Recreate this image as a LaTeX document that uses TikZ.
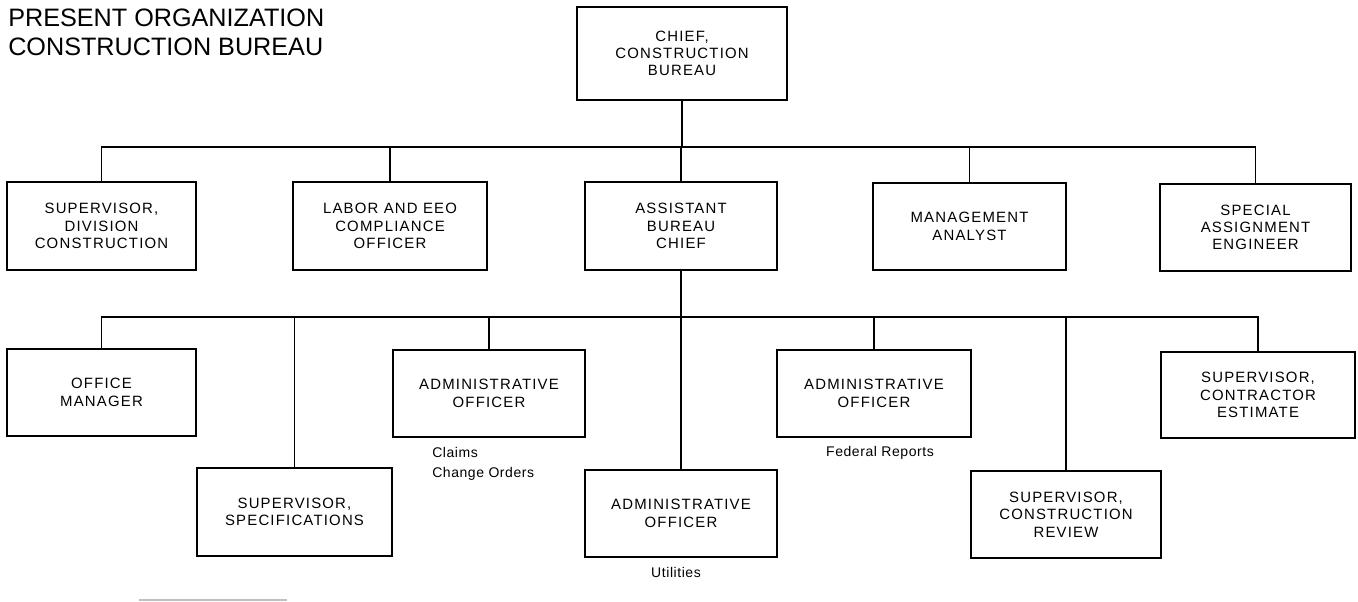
\documentclass[tikz,border=0pt]{standalone}
\usepackage{fontspec}
\setmainfont{Liberation Sans}
\newfontfamily\titlefont{Liberation Sans}
\newfontfamily\boxfont[LetterSpace=8]{Liberation Sans}
\newfontfamily\notefont[LetterSpace=4]{Liberation Sans}
\begin{document}
\begin{tikzpicture}[x=0.75pt,y=-0.75pt,
  unit/.style 2 args={draw=black, line width=1.4pt, fill=white, align=center,
    inner sep=0pt, minimum width=#1*0.75pt, minimum height=#2*0.75pt,
    font=\boxfont\fontsize{11.2}{13}\selectfont},
  note/.style={inner sep=0pt, font=\notefont\fontsize{10.5}{15.5}\selectfont},
  heading/.style={anchor=base west, inner sep=0pt,
    font=\titlefont\fontsize{18.9}{21.8}\selectfont},
  link/.style={draw=black, line width=1.4pt, line cap=rect}]
\useasboundingbox (0,0) rectangle (1358,601);

% title
\node[heading] (title1) at (8,26) {PRESENT ORGANIZATION};
\node[heading] (title2) at (8,55) {CONSTRUCTION BUREAU};

% bus levels
\coordinate (b1) at (0,147);
\coordinate (b2) at (0,317);

% head of bureau
\node[unit={210}{93}] (chief) at (682,53.5) {CHIEF,\\CONSTRUCTION\\BUREAU};

% first level
\node[unit={189}{88}] (sdc)  at (101.5,226)   {SUPERVISOR,\\DIVISION\\CONSTRUCTION};
\node[unit={194}{88}] (lab)  at (390,226)     {LABOR AND EEO\\COMPLIANCE\\OFFICER};
\node[unit={192}{88}] (asst) at (681,226)     {ASSISTANT\\BUREAU\\CHIEF};
\node[unit={193}{87}] (mgmt) at (969.5,226.5) {MANAGEMENT\\ANALYST};
\node[unit={191}{87}] (sae)  at (1255.5,227.5){SPECIAL\\ASSIGNMENT\\ENGINEER};

% second level
\node[unit={189}{87}] (office) at (101.5,392.5) {OFFICE\\MANAGER};
\node[unit={195}{88}] (spec)   at (294.5,512)   {SUPERVISOR,\\SPECIFICATIONS};
\node[unit={192}{87}] (adm1)   at (489,393.5)   {ADMINISTRATIVE\\OFFICER};
\node[unit={192}{87}] (util)   at (681,513.5)   {ADMINISTRATIVE\\OFFICER};
\node[unit={194}{87}] (fed)    at (874,393.5)   {ADMINISTRATIVE\\OFFICER};
\node[unit={190}{87}] (review) at (1066,514.5)  {SUPERVISOR,\\CONSTRUCTION\\REVIEW};
\node[unit={194}{86}] (est)    at (1258,395)    {SUPERVISOR,\\CONTRACTOR\\ESTIMATE};

% duties under the officers
\node[note, anchor=west, align=left] (claims) at (432,464) {Claims\\Change Orders};
\node[note] (fedrep) at (880,452.5) {Federal Reports};
\node[note] (utilnote) at (676,572.5) {Utilities};

% connectors, first level
\draw[link] (sdc.north) -- (sdc.north |- b1) -- (sae.north |- b1) -- (sae.north);
\draw[link] (chief.south) -- (chief.south |- b1);
\draw[link] (lab.north) -- (lab.north |- b1);
\draw[link] (asst.north) -- (asst.north |- b1);
\draw[link] (mgmt.north) -- (mgmt.north |- b1);

% connectors, second level
\draw[link] (office.north) -- (office.north |- b2) -- (est.north |- b2) -- (est.north);
\draw[link] (asst.south) -- (util.north);
\draw[link] (spec.north) -- (spec.north |- b2);
\draw[link] (adm1.north) -- (adm1.north |- b2);
\draw[link] (fed.north) -- (fed.north |- b2);
\draw[link] (review.north) -- (review.north |- b2);

% footnote rule
\coordinate (fnl) at (139,600);
\coordinate (fnr) at (287,600);
\draw[black!25, line width=0.8pt] (fnl) -- (fnr);
\end{tikzpicture}
\end{document}
